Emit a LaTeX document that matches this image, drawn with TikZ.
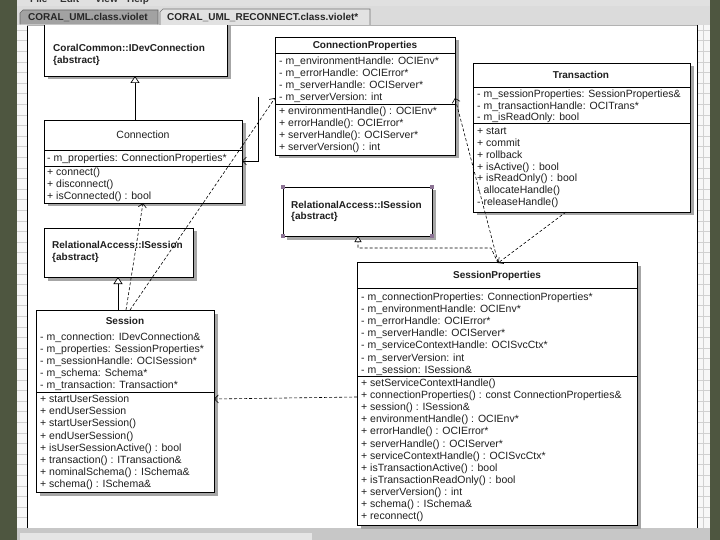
\documentclass[tikz,border=0pt]{standalone}
\usepackage{fontspec}
\setmainfont{Liberation Sans}
\usetikzlibrary{arrows.meta,shadows,calc}
\definecolor{bgolive}{HTML}{4E5640}
\definecolor{wingray}{HTML}{D2D2D2}
\definecolor{tabdark}{HTML}{A2A2A2}
\definecolor{tablight}{HTML}{E2E2E2}
\definecolor{selmark}{HTML}{8C7394}
\definecolor{gridc}{HTML}{D0D0D0}
\newcommand\umlt[4]{\node[txt] (#1) at (#2,{#3+3.7}) {#4};}
\newcommand\umlb[4]{\node[txtb] (#1) at (#2,{#3+3.7}) {#4};}
\newcommand\umlh[4]{\node[ttl] (#1) at (#2,{#3+3.7}) {#4};}
\begin{document}
\begin{tikzpicture}[x=1pt,y=-1pt,
  cls/.style={draw=black, line width=0.9pt, fill=white, anchor=north west, inner sep=0pt, outer sep=0pt,
    drop shadow={shadow xshift=3.5pt, shadow yshift=-3.5pt, fill=black!35, opacity=1}},
  txt/.style={anchor=base west, inner sep=0pt, font=\fontsize{10.5}{12}\selectfont, text=black!88},
  txtb/.style={anchor=base west, inner sep=0pt, font=\fontsize{10}{12}\selectfont\bfseries, text=black!88},
  ttl/.style={anchor=base, inner sep=0pt, font=\fontsize{10}{12}\selectfont\bfseries, text=black!88},
  ttlr/.style={anchor=base, inner sep=0pt, font=\fontsize{10.5}{12}\selectfont, text=black!88},
  sepl/.style={line width=0.9pt},
  gen/.style={line width=0.7pt, -{Triangle[length=7pt,width=9pt,fill=white,line width=0.7pt]}},
  real/.style={line width=0.6pt, dash pattern=on 3pt off 2pt, -{Triangle[length=6pt,width=7pt,fill=white,line width=0.6pt]}},
  dep/.style={line width=0.6pt, dash pattern=on 3pt off 2pt, -{Straight Barb[length=4pt,width=8pt,line width=0.6pt]}},
  assoc/.style={line width=0.7pt, -{Straight Barb[length=4pt,width=8pt,line width=0.7pt]}},
  tabtxt/.style={anchor=base west, inner sep=0pt, font=\fontsize{10}{12}\selectfont\bfseries},
  selmk/.style={fill=selmark, draw=none, minimum size=4pt, inner sep=0pt}
]
\useasboundingbox (0,0) rectangle (720,540);
% ---------- window frame ----------
\fill[bgolive] (0,0) rectangle (720,540);
\fill[wingray] (17,0) rectangle (710,540);
\fill[black!12] (17,0) rectangle (710,6);
\begin{scope}
  \clip (17,0) rectangle (710,5.5);
  \node[tabtxt, text=black!80] (menu1) at (30,2.5) {File};
  \node[tabtxt, text=black!80] (menu2) at (60,2.5) {Edit};
  \node[tabtxt, text=black!80] (menu3) at (95,2.5) {View};
  \node[tabtxt, text=black!80] (menu4) at (127,2.5) {Help};
\end{scope}
\fill[black!14] (17,6) rectangle (710,25);
\draw[fill=tabdark, draw=black!60, line width=0.6pt] (20,24.5) -- (20,13) -- (23,10) -- (158,10) -- (158,24.5);
\node[tabtxt, text=black!85] (tab1) at (28,21) {CORAL\_UML.class.violet};
\draw[fill=tablight, draw=black!55, line width=0.6pt] (160,25) -- (160,12) -- (163,9) -- (370,9) -- (370,25);
\node[tabtxt, text=black!85] (tab2) at (167,20.5) {CORAL\_UML\_RECONNECT.class.violet*};
% grid strips
\fill[black!3] (17,25) rectangle (27,528);
\fill[black!3] (697,25) rectangle (710,528);
\foreach \gy in {30,40.6,...,528} {
  \draw[gridc, line width=0.5pt] (17,\gy) -- (27,\gy);
  \draw[gridc, line width=0.5pt] (697,\gy) -- (710,\gy);
}
\draw[gridc, line width=0.5pt] (703.5,25) -- (703.5,528);
% canvas
\fill[white] (27,25) rectangle (697,528);
\draw[black, line width=0.9pt] (27,25) -- (27,528);
\draw[black, line width=0.9pt] (697,25) -- (697,528);
\draw[black!30, line width=0.6pt] (27,25.3) -- (697,25.3);
% bottom strip
\fill[black!22] (17,528) rectangle (710,540);
\fill[black!10] (20,533) rectangle (312,540);

% ---------- diagram ----------
\begin{scope}
\clip (27.5,25.6) rectangle (696.5,528);
% class boxes
\node[cls, minimum width=183pt, minimum height=66pt] (cc) at (44,10) {};
\node[cls, minimum width=198pt, minimum height=83pt] (conn) at (44,120) {};
\node[cls, minimum width=180pt, minimum height=118pt] (cp) at (275,37) {};
\node[cls, minimum width=217pt, minimum height=149pt] (tr) at (473,63) {};
\node[cls, minimum width=149pt, minimum height=49pt] (isM) at (283,187) {};
\node[cls, minimum width=149pt, minimum height=49pt] (isL) at (44,228) {};
\node[cls, minimum width=178pt, minimum height=182pt] (sess) at (36,310) {};
\node[cls, minimum width=280pt, minimum height=263pt] (sp) at (357,262) {};

% separators
\draw[sepl] ([yshift=-30pt]conn.north west) -- ([yshift=-30pt]conn.north east);
\draw[sepl] ([yshift=-46pt]conn.north west) -- ([yshift=-46pt]conn.north east);
\draw[sepl] ([yshift=-16pt]cp.north west) -- ([yshift=-16pt]cp.north east);
\draw[sepl] ([yshift=-67pt]cp.north west) -- ([yshift=-67pt]cp.north east);
\draw[sepl] ([yshift=-24pt]tr.north west) -- ([yshift=-24pt]tr.north east);
\draw[sepl] ([yshift=-60pt]tr.north west) -- ([yshift=-60pt]tr.north east);
\draw[sepl] ([yshift=-82pt]sess.north west) -- ([yshift=-82pt]sess.north east);
\draw[sepl] ([yshift=-26pt]sp.north west) -- ([yshift=-26pt]sp.north east);
\draw[sepl] ([yshift=-114pt]sp.north west) -- ([yshift=-114pt]sp.north east);

% selection marks on middle ISession
\node[selmk] (mk1) at (isM.north west) {};
\node[selmk] (mk2) at (isM.north east) {};
\node[selmk] (mk3) at (isM.south west) {};
\node[selmk] (mk4) at (isM.south east) {};

% texts: CoralCommon
\umlb{cc1}{53}{48}{CoralCommon::IDevConnection}
\umlb{cc2}{53}{60}{\{abstract\}}
% Connection
\node[ttlr] (conn0) at (143,{135+3.7}) {Connection};
\umlt{conn1}{47}{158}{- m\_properties: ConnectionProperties*}
\umlt{conn2}{47}{172}{+ connect()}
\umlt{conn3}{47}{184}{+ disconnect()}
\umlt{conn4}{47}{196}{+ isConnected() : bool}
% ConnectionProperties
\umlh{cp0}{365}{45}{ConnectionProperties}
\umlt{cp1}{279}{61}{- m\_environmentHandle: OCIEnv*}
\umlt{cp2}{279}{73}{- m\_errorHandle: OCIError*}
\umlt{cp3}{279}{85}{- m\_serverHandle: OCIServer*}
\umlt{cp4}{279}{97}{- m\_serverVersion: int}
\umlt{cp5}{279}{111}{+ environmentHandle() : OCIEnv*}
\umlt{cp6}{279}{123}{+ errorHandle(): OCIError*}
\umlt{cp7}{279}{135}{+ serverHandle(): OCIServer*}
\umlt{cp8}{279}{147}{+ serverVersion() : int}
% Transaction
\umlh{tr0}{581}{75}{Transaction}
\umlt{tr1}{477}{94}{- m\_sessionProperties: SessionProperties\&}
\umlt{tr2}{477}{105.5}{- m\_transactionHandle: OCITrans*}
\umlt{tr3}{477}{117}{- m\_isReadOnly: bool}
\umlt{tr4}{477}{131}{+ start}
\umlt{tr5}{477}{142.8}{+ commit}
\umlt{tr6}{477}{154.6}{+ rollback}
\umlt{tr7}{477}{166.4}{+ isActive() : bool}
\umlt{tr8}{477}{178.2}{+ isReadOnly() : bool}
\umlt{tr9}{477}{190}{- allocateHandle()}
\umlt{tr10}{477}{201.8}{- releaseHandle()}
% RelationalAccess::ISession (middle)
\umlb{isM1}{291}{205}{RelationalAccess::ISession}
\umlb{isM2}{291}{216}{\{abstract\}}
% RelationalAccess::ISession (left)
\umlb{isL1}{52}{245}{RelationalAccess::ISession}
\umlb{isL2}{52}{257}{\{abstract\}}
% Session
\umlh{sess0}{125}{321}{Session}
\umlt{sess1}{40}{337}{- m\_connection: IDevConnection\&}
\umlt{sess2}{40}{349}{- m\_properties: SessionProperties*}
\umlt{sess3}{40}{361}{- m\_sessionHandle: OCISession*}
\umlt{sess4}{40}{373}{- m\_schema: Schema*}
\umlt{sess5}{40}{385}{- m\_transaction: Transaction*}
\umlt{sess6}{40}{399}{+ startUserSession}
\umlt{sess7}{40}{411}{+ endUserSession}
\umlt{sess8}{40}{423}{+ startUserSession()}
\umlt{sess9}{40}{436}{+ endUserSession()}
\umlt{sess10}{40}{448}{+ isUserSessionActive() : bool}
\umlt{sess11}{40}{460}{+ transaction() : ITransaction\&}
\umlt{sess12}{40}{472}{+ nominalSchema() : ISchema\&}
\umlt{sess13}{40}{484}{+ schema() : ISchema\&}
% SessionProperties
\umlh{sp0}{497}{275}{SessionProperties}
\umlt{sp1}{361}{297}{- m\_connectionProperties: ConnectionProperties*}
\umlt{sp2}{361}{309}{- m\_environmentHandle: OCIEnv*}
\umlt{sp3}{361}{321}{- m\_errorHandle: OCIError*}
\umlt{sp4}{361}{333}{- m\_serverHandle: OCIServer*}
\umlt{sp5}{361}{345}{- m\_serviceContextHandle: OCISvcCtx*}
\umlt{sp6}{361}{358}{- m\_serverVersion: int}
\umlt{sp7}{361}{370}{- m\_session: ISession\&}
\umlt{sp8}{361}{383}{+ setServiceContextHandle()}
\umlt{sp9}{361}{395}{+ connectionProperties() : const ConnectionProperties\&}
\umlt{sp10}{361}{407}{+ session() : ISession\&}
\umlt{sp11}{361}{419}{+ environmentHandle() : OCIEnv*}
\umlt{sp12}{361}{431}{+ errorHandle() : OCIError*}
\umlt{sp13}{361}{444}{+ serverHandle() : OCIServer*}
\umlt{sp14}{361}{456}{+ serviceContextHandle() : OCISvcCtx*}
\umlt{sp15}{361}{468}{+ isTransactionActive() : bool}
\umlt{sp16}{361}{480}{+ isTransactionReadOnly() : bool}
\umlt{sp17}{361}{492}{+ serverVersion() : int}
\umlt{sp18}{361}{504}{+ schema() : ISchema\&}
\umlt{sp19}{361}{516}{+ reconnect()}

% ---------- connectors ----------
\coordinate (vtop) at (258,97);
\draw[gen] ([xshift=91pt]conn.north west) -- ([xshift=91pt]cc.south west);
\draw[gen] ([xshift=82pt]sess.north west) -- ([xshift=74pt]isL.south west);
\draw[dep] ([xshift=90pt]sess.north west) -- ([xshift=99pt]conn.south west);
\draw[dep] ([xshift=94pt]sess.north west) -- ([yshift=-61pt]cp.north west);
\draw[assoc] (vtop) |- ([yshift=-41pt]conn.north east);
\draw[dep] ([xshift=141pt]sp.north west) -- ([yshift=-61pt]cp.north east);
\draw[dep] ([xshift=93pt]tr.south west) -- ([xshift=141pt,yshift=-1pt]sp.north west);
\draw[real] ([xshift=141pt,yshift=-1pt]sp.north west) -- ($(isM.south west)+(208,12)$) -- ($(isM.south west)+(75,12)$) -- ([xshift=75pt]isM.south west);
\draw[dep] ([yshift=-135pt]sp.north west) -- ([yshift=-89pt]sess.north east);
\end{scope}
\end{tikzpicture}
\end{document}
